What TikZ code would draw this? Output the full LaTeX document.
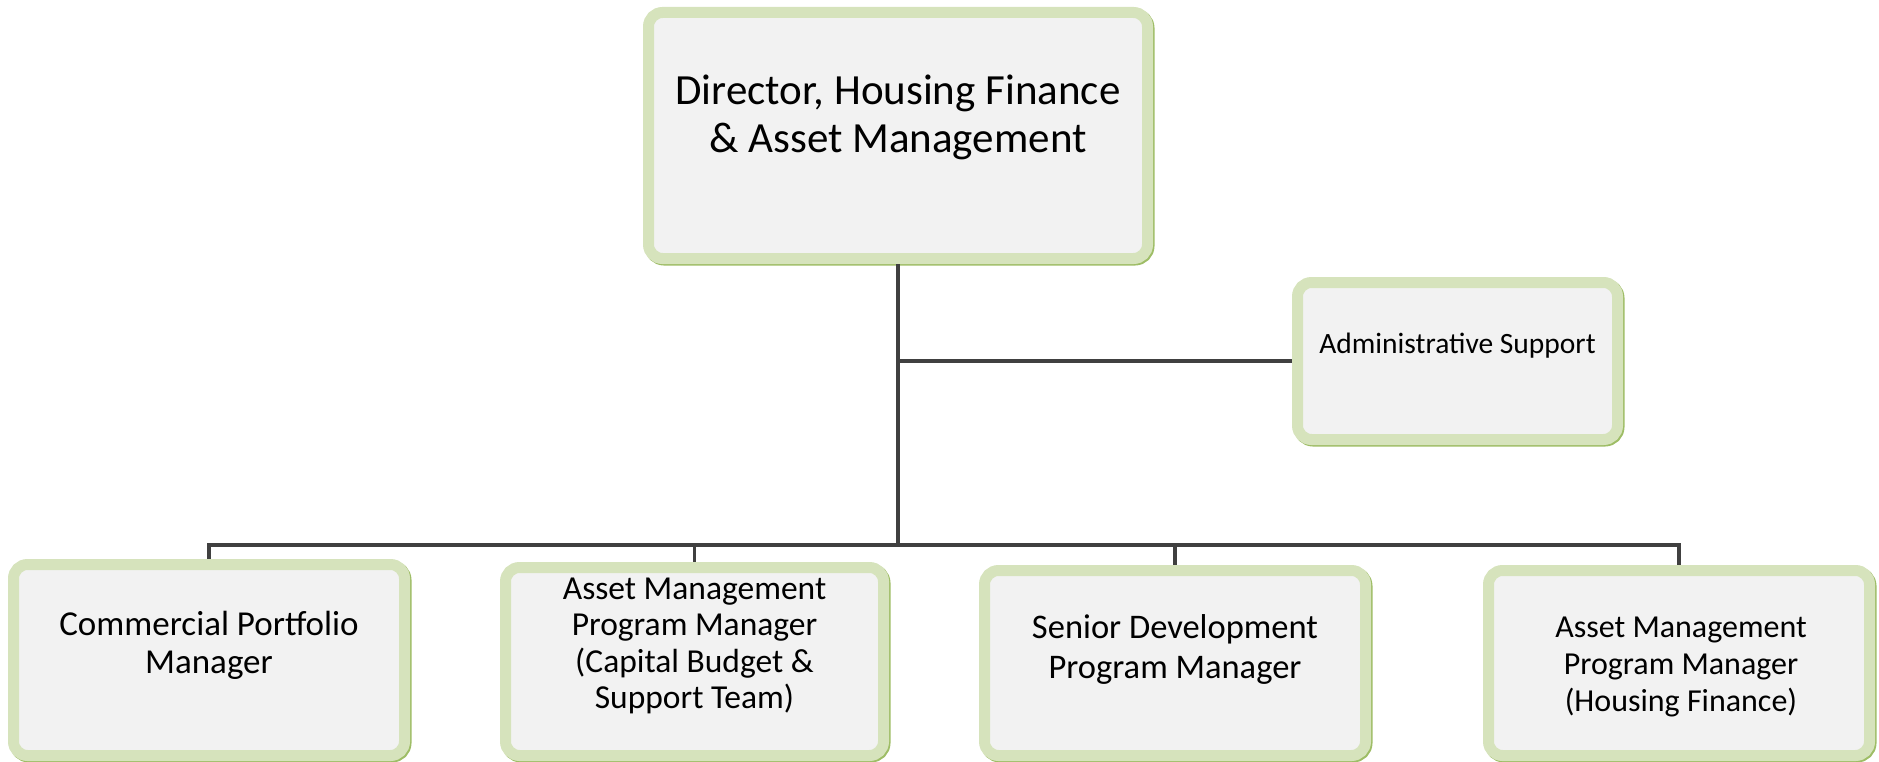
\documentclass[tikz,border=0pt]{standalone}
\usepackage{fontspec}
\setmainfont{Carlito}
\usepackage{tikz}
\usetikzlibrary{shapes}
\definecolor{boxgreen}{RGB}{214,227,188}
\definecolor{edgegreen}{RGB}{158,189,102}
\definecolor{boxfill}{RGB}{242,242,242}
\definecolor{linegray}{RGB}{64,64,64}
\tikzset{box/.style={rectangle,draw=boxgreen,line width=11pt,fill=boxfill,rounded corners=14pt,
    preaction={draw=edgegreen,line width=11pt,transform canvas={xshift=1.5pt,yshift=-1.5pt}}},
  lbl/.style={align=center,inner sep=0pt},
  link/.style={draw=linegray,line width=3.5pt}}

\begin{document}
\begin{tikzpicture}[x=1pt,y=-1pt]
    \useasboundingbox (0,0) rectangle (1879,762);

    \node[box,minimum width=499pt,minimum height=246pt] (dir) at (898,135.5) {};
    \node[box,minimum width=320pt,minimum height=157pt] (adm) at (1457.5,361) {};
    \node[box,minimum width=391pt,minimum height=191pt] (cpm) at (209,660) {};
    \node[box,minimum width=378pt,minimum height=188pt] (amc) at (694.5,661.5) {};
    \node[box,minimum width=381pt,minimum height=185pt] (sdp) at (1175,663) {};
    \node[box,minimum width=381pt,minimum height=185pt] (amh) at (1679,663) {};

    \node[lbl,font=\fontsize{43}{48}\selectfont] (dirtext) at (898,117) {Director, Housing Finance\\\& Asset Management};
    \node[lbl,font=\fontsize{29.5}{34}\selectfont] (admtext) at (1457.5,346) {Administrative Support};
    \node[lbl,font=\fontsize{35}{38.5}\selectfont] (cpmtext) at (209,645.5) {Commercial Portfolio\\Manager};
    \node[lbl,font=\fontsize{33.5}{36.5}\selectfont] (amctext) at (694.5,646) {Asset Management\\Program Manager\\(Capital Budget \&\\Support Team)};
    \node[lbl,font=\fontsize{34.5}{40}\selectfont] (sdptext) at (1175,649.5) {Senior Development\\Program Manager};
    \node[lbl,font=\fontsize{32}{37}\selectfont] (amhtext) at (1681,667) {Asset Management\\Program Manager\\ (Housing Finance)};

    \coordinate (bus) at (898,545);

    \draw [link] (dir.south) to [] (bus);
    \draw [link] (dir.south |- adm.west) to [] (adm.west);
    \draw [link] (bus) -| (cpm.north);
    \draw [link] (bus) -| (amc.north);
    \draw [link] (bus) -| (sdp.north);
    \draw [link] (bus) -| (amh.north);
\end{tikzpicture}
\end{document}
